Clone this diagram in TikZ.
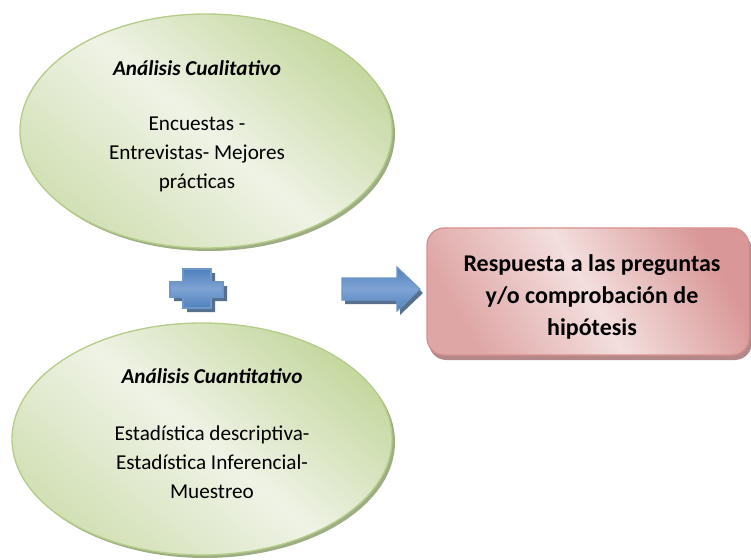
\documentclass[tikz,border=0pt]{standalone}
\usepackage{fontspec}
\setmainfont{Carlito}
\definecolor{bubbledark}{HTML}{C5D8A0}
\definecolor{bubblelight}{HTML}{EFF3E6}
\definecolor{bubbleline}{HTML}{B5CD88}
\definecolor{bubbleshadow}{HTML}{9DAE84}
\definecolor{bluefill}{HTML}{4F81BD}
\definecolor{bluelight}{HTML}{7FA3D3}
\definecolor{blueline}{HTML}{6F96C9}
\definecolor{blueshadow}{HTML}{58708F}
\definecolor{rosedark}{HTML}{D99897}
\definecolor{roselight}{HTML}{F3DFDE}
\definecolor{roseline}{HTML}{D8908F}
\definecolor{roseshadow}{HTML}{B48888}
\tikzset{
  bubble/.style={draw=bubbleline, line width=1pt, top color=bubbledark, bottom color=bubbledark!70!bubblelight, middle color=bubblelight, shading angle=-40},
  bluebit/.style={draw=blueline, line width=0.8pt, top color=bluefill, bottom color=bluefill, middle color=bluelight},
  rosebox/.style={draw=roseline, line width=1pt, rounded corners=13pt, top color=rosedark, bottom color=rosedark!80!roselight, middle color=roselight, shading angle=-60},
  titletext/.style={font=\fontsize{15.9}{20}\selectfont\bfseries\itshape},
  bodytext/.style={align=center, font=\fontsize{15.9}{21.8}\selectfont},
  resulttext/.style={align=center, font=\fontsize{18}{24}\selectfont\bfseries}
}
\begin{document}
\begin{tikzpicture}[x=0.75pt,y=-0.75pt]
\useasboundingbox (0,0) rectangle (751,560);
%\draw[step=50,gray,very thin] (0,0) grid (751,560);
\fill[bubbleshadow] (209,134) ellipse (186 and 117);
\draw[bubble] (206,131) ellipse (186 and 117);
\node[titletext] (cuali) at (197,68) {Análisis Cualitativo};
\node[bodytext] (cualibody) at (197,154) {Encuestas -\\Entrevistas- Mejores\\prácticas};

%------------------------------------------------

\fill[blueshadow,shift={(4,4)}] (183,269)--(211,269)--(211,282)--(223,282)--(223,297)--(211,297)--(211,308)--(183,308)--(183,297)--(170,297)--(170,282)--(183,282)--cycle;
\draw[bluebit] (183,269)--(211,269)--(211,282)--(223,282)--(223,297)--(211,297)--(211,308)--(183,308)--(183,297)--(170,297)--(170,282)--(183,282)--cycle;
\fill[blueshadow,shift={(3,4)}] (342,278)--(397,278)--(397,267)--(420,289)--(397,311)--(397,300)--(342,300)--cycle;
\draw[bluebit] (342,278)--(397,278)--(397,267)--(420,289)--(397,311)--(397,300)--(342,300)--cycle;

%------------------------------------------------

\fill[bubbleshadow] (205,442) ellipse (190 and 116);
\draw[bubble] (202,439) ellipse (190 and 116);
\node[titletext] (cuanti) at (212,376) {Análisis Cuantitativo};
\node[bodytext] (cuantibody) at (212,462) {Estadística descriptiva-\\Estadística Inferencial-\\Muestreo};

%------------------------------------------------

\fill[roseshadow,rounded corners=13pt] (429,233) rectangle (752,360);
\draw[rosebox] (427,228) rectangle (749,355);
\node[resulttext] (respuesta) at (592,297) {Respuesta a las preguntas\\y/o comprobación de\\hipótesis};
\end{tikzpicture}
\end{document}
